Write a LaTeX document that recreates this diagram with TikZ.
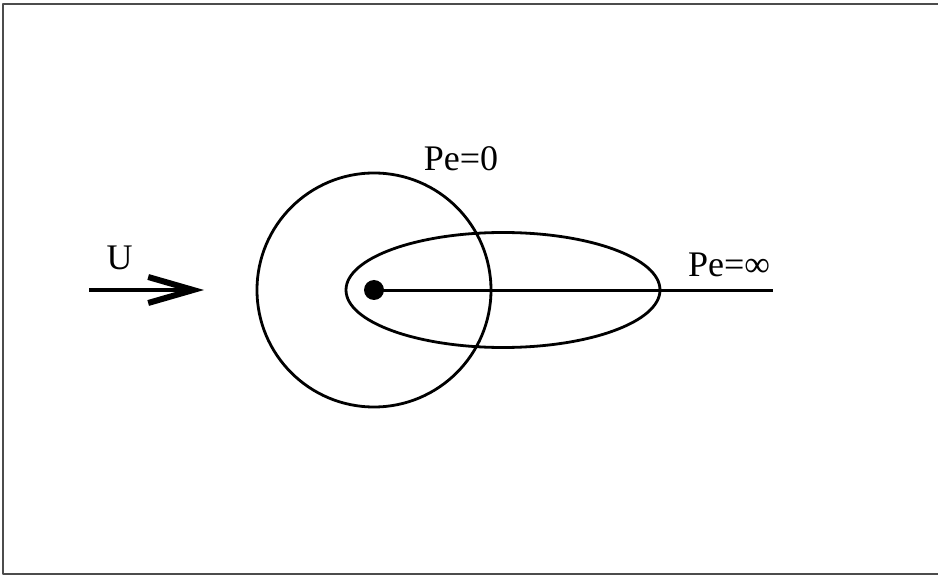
\documentclass[tikz,border=0pt]{standalone}
\usepackage{fontspec}
\setmainfont{Liberation Serif}
\usetikzlibrary{arrows.meta}
\begin{document}
\begin{tikzpicture}[x=1pt,y=-1pt,line join=round,line cap=butt,font=\fontsize{36}{40}\selectfont,
	curve/.style={line width=2.8pt}]
	\def\r{117};
	\useasboundingbox (0,0) rectangle (938,577);
	\path
	(374,290) coordinate (O)
	(503,290) coordinate (E)
	(773,290.5) coordinate (T)
	(89,290) coordinate (A)
	(204,290) coordinate (B)
	;
	\draw[gray!60!black,line width=1.3pt] (939,4)--(3,4)--(3,574)--(939,574);
	\draw[curve] (O) circle (\r)
	(E) ellipse (157 and 57.5)
	;
	\draw[line width=3pt] (O|-T)--(T);
	\fill[black] (O) circle (10);
	\draw[line width=4.5pt,-{Straight Barb[length=45pt,width=26pt,line width=6pt]}] (A)--(B);
	\node[anchor=base] (u) at (119.5,270) {U};
	\node[anchor=base] (p0) at (461,171) {Pe=0};
	\node[anchor=base] (pinf) at (729,277) {Pe=∞};
\end{tikzpicture}
\end{document}
